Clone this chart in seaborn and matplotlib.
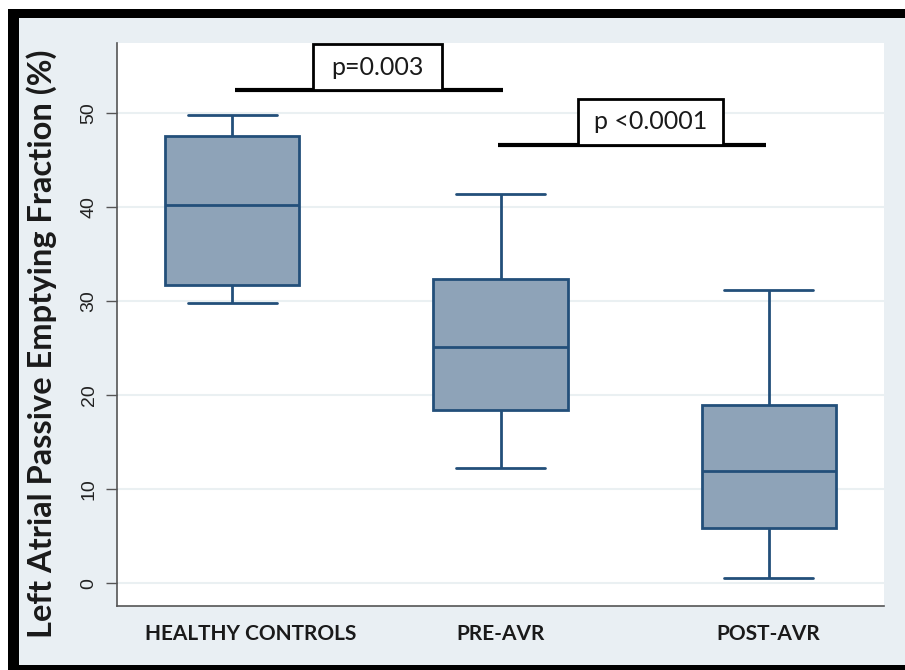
import matplotlib
matplotlib.use("Agg")
import pandas as pd
import seaborn as sns
import matplotlib.pyplot as plt
import matplotlib.transforms as mtransforms
from matplotlib.patches import Rectangle

# five-number summaries: min, Q1, median, Q3, max
groups = ["HEALTHY CONTROLS", "PRE-AVR", "POST-AVR"]
healthy = [29.8, 31.7, 40.2, 47.5, 49.7]
pre_avr = [12.3, 18.4, 25.1, 32.3, 41.4]
post_avr = [0.6, 5.85, 11.9, 18.9, 31.2]

# significance brackets
pairs = [(0, 1), (1, 2)]
bracket_y = [52.4, 46.6]
p_labels = ["p=0.003", "p <0.0001"]

yticks = [0, 10, 20, 30, 40, 50]

df = pd.DataFrame({
    "group": [groups[0]] * 5 + [groups[1]] * 5 + [groups[2]] * 5,
    "value": healthy + pre_avr + post_avr,
})

sns.set_style("white")
plt.rcParams["font.family"] = ["Lato", "DejaVu Sans"]

fill = "#8ea3b8"
edge = "#234f7a"

fig = plt.figure(figsize=(9.05, 6.7), dpi=100, facecolor="white")
# black frame and light panel behind the plot
fig.add_artist(Rectangle((8 / 905, 0), 1, (670 - 9) / 670, transform=fig.transFigure,
                         facecolor="black", edgecolor="none", zorder=-20))
fig.add_artist(Rectangle((19 / 905, 5 / 670), 1, (665 - 18) / 670, transform=fig.transFigure,
                         facecolor="#e9eff3", edgecolor="none", zorder=-19))

ax = fig.add_axes([117 / 905, 64 / 670, (884 - 117) / 905, (606 - 43) / 670])
ax.set_facecolor("white")

sns.boxplot(data=df, x="group", y="value", ax=ax, color=fill, saturation=1,
            width=0.5, whis=(0, 100), linecolor=edge, linewidth=2,
            capwidths=0.33, showfliers=False)

ax.set_xlim(-0.43, 2.43)
ax.set_ylim(-2.4, 57.4)
ax.set_yticks(yticks)
ax.set_yticklabels([str(t) for t in yticks], rotation=90, va="center",
                   family="Liberation Sans", fontsize=14, color="#222222")
ax.tick_params(axis="y", direction="out", length=8, width=1, color="#555555", left=True, pad=6)
ax.tick_params(axis="x", length=0, pad=13)
for i, lab in enumerate(ax.get_xticklabels()):
    lab.set_fontweight("bold")
    lab.set_fontsize(15)
    lab.set_color("#1a1a1a")
    if i == 0:
        # first label sits a little right of its box in the original
        lab.set_transform(lab.get_transform() +
                          mtransforms.ScaledTranslation(0.18, 0, fig.dpi_scale_trans))

ax.yaxis.grid(True, color="#eaf0f2", linewidth=1.5)
ax.set_axisbelow(True)
for s in ["top", "right"]:
    ax.spines[s].set_visible(False)
for s in ["left", "bottom"]:
    ax.spines[s].set_color("#555555")
    ax.spines[s].set_linewidth(1.2)

ax.set_xlabel("")
ax.set_ylabel("Left Atrial Passive Emptying Fraction (%)", fontsize=23.5,
              fontweight="bold", color="#1a1a1a")
ax.yaxis.set_label_coords(-0.078, 0.465)

# significance brackets with boxed p-values
shift = [0.01, -0.01]
for (a, b), yb, txt, dx in zip(pairs, bracket_y, p_labels, shift):
    ax.plot([a + dx, b + dx], [yb, yb], color="black", lw=3,
            solid_capstyle="butt", clip_on=False, zorder=5)
    bw = 0.48 + 0.06 * (len(txt) > 7)
    bx = (a + b) / 2 + 0.04 + 0.02 * (len(txt) > 7) - bw / 2
    ax.add_patch(Rectangle((bx, yb), bw, 4.85, facecolor="white", edgecolor="black",
                           lw=2, clip_on=False, zorder=6))
    ax.text(bx + bw / 2, yb + 2.45, txt, ha="center", va="center", fontsize=18,
            color="#1a1a1a", zorder=7, clip_on=False)

fig.savefig("out.png", dpi=100, facecolor="white")
